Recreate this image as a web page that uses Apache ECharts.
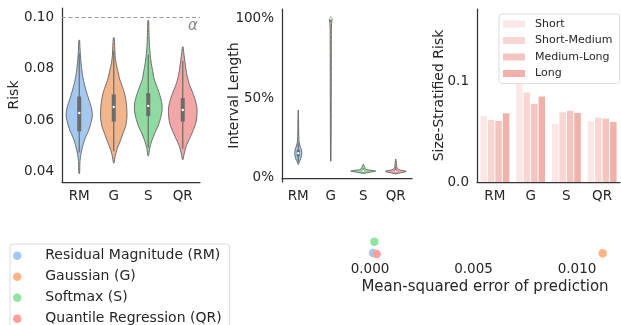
<!DOCTYPE html>
<html>
<head>
<meta charset="utf-8">
<script src="https://cdn.jsdelivr.net/npm/echarts@6/dist/echarts.min.js"></script>
<style>
  html, body { margin: 0; padding: 0; background: #fff; }
  #chart { width: 621px; height: 325px; }
</style>
</head>
<body>
<div id="chart"></div>
<script>
const methods = ['RM', 'G', 'S', 'QR'];
const methodNames = ['Residual Magnitude (RM)', 'Gaussian (G)', 'Softmax (S)', 'Quantile Regression (QR)'];
const violinColors = ['#a5c8ef', '#f2b48a', '#90dba0', '#f2a7a6'];
const dotColors = ['#a1c9f4', '#ffb482', '#8de5a1', '#ff9f9b'];

// violin outlines: [value, half width as share of the category band]
const riskRM = [[0.0394, 0.01], [0.044, 0.02], [0.047, 0.05], [0.050, 0.10], [0.053, 0.17], [0.056, 0.27], [0.059, 0.34], [0.062, 0.38], [0.065, 0.35], [0.068, 0.28], [0.071, 0.21], [0.074, 0.15], [0.077, 0.10], [0.080, 0.07], [0.084, 0.04], [0.088, 0.02], [0.091, 0.01]];
const riskG = [[0.0435, 0.01], [0.046, 0.04], [0.049, 0.10], [0.052, 0.19], [0.055, 0.27], [0.058, 0.35], [0.061, 0.38], [0.064, 0.38], [0.067, 0.36], [0.070, 0.32], [0.073, 0.25], [0.076, 0.17], [0.079, 0.12], [0.082, 0.07], [0.085, 0.04], [0.088, 0.03], [0.092, 0.01]];
const riskS = [[0.0463, 0.01], [0.049, 0.04], [0.052, 0.10], [0.055, 0.19], [0.058, 0.29], [0.061, 0.36], [0.064, 0.40], [0.067, 0.39], [0.070, 0.33], [0.073, 0.25], [0.076, 0.17], [0.079, 0.13], [0.082, 0.09], [0.085, 0.06], [0.089, 0.035], [0.094, 0.02], [0.0987, 0.01]];
const riskQR = [[0.0448, 0.01], [0.047, 0.04], [0.050, 0.10], [0.053, 0.20], [0.056, 0.30], [0.059, 0.38], [0.062, 0.41], [0.065, 0.41], [0.068, 0.36], [0.071, 0.28], [0.074, 0.19], [0.077, 0.13], [0.080, 0.09], [0.083, 0.06], [0.086, 0.03], [0.0884, 0.01]];
// [whisker low, q1, median, q3, whisker high]
const riskStats = [[0.0475, 0.0557, 0.0628, 0.0692, 0.0859], [0.048, 0.0595, 0.0652, 0.0700, 0.087], [0.0495, 0.0617, 0.0656, 0.0705, 0.0855], [0.049, 0.0595, 0.064, 0.0686, 0.083]];

const lengthRM = [[0.085, 0.006], [0.10, 0.03], [0.12, 0.077], [0.14, 0.10], [0.16, 0.108], [0.18, 0.092], [0.20, 0.055], [0.23, 0.025], [0.27, 0.015], [0.32, 0.012], [0.38, 0.009], [0.425, 0.003]];
const lengthG = [[0.105, 0.005], [0.3, 0.012], [0.6, 0.015], [0.9, 0.018], [0.97, 0.025], [0.995, 0.04], [1.01, 0.01]];
const lengthS = [[0.028, 0.015], [0.035, 0.185], [0.040, 0.34], [0.043, 0.385], [0.046, 0.31], [0.050, 0.155], [0.055, 0.077], [0.065, 0.046], [0.075, 0.025], [0.085, 0.003]];
const lengthQR = [[0.025, 0.015], [0.032, 0.154], [0.037, 0.277], [0.040, 0.323], [0.044, 0.277], [0.048, 0.154], [0.054, 0.077], [0.065, 0.037], [0.08, 0.025], [0.10, 0.015], [0.118, 0.003]];
const lengthStats = [[0.10, 0.135, 0.155, 0.175, 0.22], [0.98, 0.995, 1.0, 1.0, 1.0], [0.03, 0.038, 0.043, 0.048, 0.06], [0.028, 0.035, 0.041, 0.05, 0.07]];

const sizeGroups = ['Short', 'Short-Medium', 'Medium-Long', 'Long'];
const sizeColors = ['#fbe7e5', '#f8d6d2', '#f4c5c0', '#f0b1aa'];
const shortRisk = [0.0657, 0.103, 0.0577, 0.0603];
const shortMedRisk = [0.0617, 0.089, 0.0693, 0.064];
const medLongRisk = [0.0607, 0.0777, 0.0707, 0.063];
const longRisk = [0.0683, 0.085, 0.0687, 0.0597];

const mseValues = [0.000145, 0.01124, 0.00021, 0.00032];
const mseRows = [0.18, 0.168, 0.695, 0.136];

const alphaLevel = 0.10;
const riskTicks = [0.04, 0.06, 0.08, 0.10];
const lengthTicks = [0, 0.5, 1.0];
const stratTicks = [0, 0.1];
const mseTicks = [0, 0.005, 0.01];

const chart = echarts.init(document.getElementById('chart'));
const font = 'DejaVu Sans';
const ink = '#262626';
const axisLine = { show: true, lineStyle: { color: '#333', width: 1.25 } };
const tickText = { color: ink, fontSize: 13.5, fontFamily: font };
const nameText = { color: ink, fontSize: 14, fontFamily: font };

function violinSeries(profiles, stats, gi, boxW) {
    return {
        type: 'custom',
        xAxisIndex: gi,
        yAxisIndex: gi,
        silent: true,
        data: methods.map((m, i) => [i]),
        renderItem: function (params, api) {
            const i = params.dataIndex;
            const band = api.size([1, 0])[0];
            const left = [], right = [];
            profiles[i].forEach(p => {
                const c = api.coord([i, p[0]]);
                left.push([c[0] - p[1] * band, c[1]]);
                right.push([c[0] + p[1] * band, c[1]]);
            });
            const pts = left.concat(right.reverse());
            const s = stats[i].map(v => api.coord([i, v]));
            return {
                type: 'group',
                children: [
                    { type: 'polygon', shape: { points: pts, smooth: 0.25 },
                      style: { fill: violinColors[i], stroke: '#6b6b6b', lineWidth: 1 } },
                    { type: 'line', shape: { x1: s[0][0], y1: s[0][1], x2: s[4][0], y2: s[4][1] },
                      style: { stroke: '#6b6b6b', lineWidth: 1.2 } },
                    { type: 'rect', shape: { x: s[3][0] - boxW / 2, y: s[3][1], width: boxW, height: s[1][1] - s[3][1] },
                      style: { fill: '#6b6b6b' } },
                    { type: 'circle', shape: { cx: s[2][0], cy: s[2][1], r: 1.2 },
                      style: { fill: '#fff' } }
                ]
            };
        }
    };
}

function catAxis(gi) {
    return {
        type: 'category', gridIndex: gi, data: methods,
        axisLine: axisLine, axisTick: { show: false },
        axisLabel: Object.assign({ margin: 7 }, tickText)
    };
}

const riskViolins = violinSeries([riskRM, riskG, riskS, riskQR], riskStats, 0, 4);
riskViolins.markLine = {
    silent: true, symbol: 'none',
    data: [{ yAxis: alphaLevel }],
    lineStyle: { color: '#999', type: [4, 2.5], width: 1.2 },
    label: { formatter: 'α', position: 'insideEndBottom', color: '#888', fontStyle: 'italic',
             fontSize: 15, fontFamily: font, distance: 2 }
};

const barSets = [shortRisk, shortMedRisk, medLongRisk, longRisk];

const options = {
    animation: false,
    grid: [
        { left: 62, top: 8, width: 138, height: 174 },
        { left: 282, top: 9, width: 130, height: 173 },
        { left: 477, top: 9, width: 143, height: 173 },
        { left: 358, top: 235, width: 254, height: 22 }
    ],
    xAxis: [
        catAxis(0), catAxis(1), catAxis(2),
        {
            type: 'value', gridIndex: 3, min: -0.00058, max: 0.01169,
            axisLine: { show: false }, axisTick: { show: false }, splitLine: { show: false },
            axisLabel: Object.assign({ customValues: mseTicks, margin: 5,
                formatter: v => v.toFixed(3) }, tickText),
            name: 'Mean-squared error of prediction', nameLocation: 'middle', nameGap: 23,
            nameTextStyle: { color: ink, fontSize: 15, fontFamily: font }
        }
    ],
    yAxis: [
        {
            type: 'value', gridIndex: 0, min: 0.0361, max: 0.1035,
            axisLine: axisLine, axisTick: { show: false }, splitLine: { show: false },
            axisLabel: Object.assign({ customValues: riskTicks, margin: 8, formatter: v => v.toFixed(2) }, tickText),
            name: 'Risk', nameLocation: 'middle', nameGap: 41, nameMoveOverlap: false, nameTextStyle: nameText
        },
        {
            type: 'value', gridIndex: 1, min: -0.026, max: 1.06,
            axisLine: axisLine, axisTick: { show: false }, splitLine: { show: false },
            axisLabel: Object.assign({ customValues: lengthTicks, margin: 8,
                formatter: v => Math.round(v * 100) + '%' }, tickText),
            name: 'Interval Length', nameLocation: 'middle', nameGap: 41, nameMoveOverlap: false, nameTextStyle: nameText
        },
        {
            type: 'value', gridIndex: 2, min: 0, max: 0.172,
            axisLine: axisLine, axisTick: { show: false }, splitLine: { show: false },
            axisLabel: Object.assign({ customValues: stratTicks, margin: 8, formatter: v => v.toFixed(1) }, tickText),
            name: 'Size-Stratified Risk', nameLocation: 'middle', nameGap: 31, nameMoveOverlap: false, nameTextStyle: nameText
        },
        { type: 'value', gridIndex: 3, min: 0, max: 1, show: false }
    ],
    legend: [
        {
            data: sizeGroups, orient: 'vertical', left: 499, top: 14,
            icon: 'rect', itemWidth: 22, itemHeight: 7, itemGap: 3.5,
            padding: [3.5, 7, 3.5, 4],
            backgroundColor: 'rgba(255,255,255,0.85)', borderColor: '#dcdcdc', borderWidth: 1, borderRadius: 3,
            textStyle: { color: ink, fontSize: 11, fontFamily: font, lineHeight: 13, padding: [0, 0, 0, 5] }
        },
        {
            data: methodNames, orient: 'vertical', left: 10, top: 244, height: 90,
            icon: 'circle', itemWidth: 30, itemHeight: 8.5, itemGap: 5,
            padding: [3.7, 8, 3.7, 3],
            borderColor: '#dcdcdc', borderWidth: 1, borderRadius: 3,
            textStyle: { color: ink, fontSize: 14, fontFamily: font, lineHeight: 16, padding: [0, 0, 0, 8] }
        }
    ],
    series: [
        riskViolins,
        violinSeries([lengthRM, lengthG, lengthS, lengthQR], lengthStats, 1, 3)
    ]
};

barSets.forEach((vals, k) => {
    options.series.push({
        type: 'bar', name: sizeGroups[k], xAxisIndex: 2, yAxisIndex: 2,
        data: vals, barWidth: 6.5, barGap: '15%',
        itemStyle: { color: sizeColors[k] }
    });
});

methods.forEach((m, i) => {
    options.series.push({
        type: 'scatter', name: methodNames[i], xAxisIndex: 3, yAxisIndex: 3,
        data: [[mseValues[i], mseRows[i]]], symbolSize: 8.5,
        itemStyle: { color: dotColors[i], opacity: 1 }
    });
});

chart.setOption(options);
</script>
</body>
</html>
